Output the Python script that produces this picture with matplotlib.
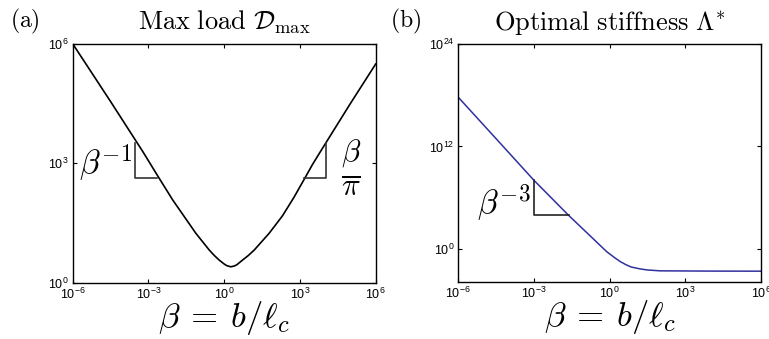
import matplotlib
matplotlib.use('Agg')
import matplotlib.pyplot as plt
import numpy as np

# values, stored as log10
# panel (a): max load D_max vs beta
load_logb = [-6.0, -4.5, -3.23, -2.63, -2.04, -1.58, -1.12, -0.59, -0.4, -0.2, 0.0,
             0.1, 0.26, 0.4, 0.5, 0.73, 0.95, 1.19, 1.78, 2.31, 2.77, 3.19, 3.5,
             3.82, 5.0, 6.0]
load_logd = [6.0, 4.55, 3.30, 2.68, 2.08, 1.66, 1.24, 0.82, 0.69, 0.57, 0.47,
             0.43, 0.40, 0.42, 0.45, 0.57, 0.68, 0.82, 1.24, 1.68, 2.15, 2.62, 2.97,
             3.30, 4.5, 5.49]

# panel (b): optimal stiffness Lambda* vs beta
stiff_logb = [-6.0, -4.5, -3.0, -1.63, -0.11, 0.2, 0.42, 0.65, 0.85, 1.2, 1.5,
              2.0, 4.0, 6.0]
stiff_logl = [17.74, 12.9, 8.04, 3.96, -0.31, -1.0, -1.45, -1.82, -2.08, -2.3, -2.43,
              -2.53, -2.56, -2.57]

# slope triangles (corners, log10)
tri_a1_logb = [-3.54, -3.54, -2.67]
tri_a1_logy = [3.52, 2.64, 2.64]
tri_a2_logb = [3.16, 4.02, 4.02]
tri_a2_logy = [2.64, 2.64, 3.52]
tri_b_logb = [-3.0, -3.0, -1.63]
tri_b_logy = [8.04, 3.96, 3.96]

xticks = [1e-6, 1e-3, 1e0, 1e3, 1e6]

plt.rcParams['font.family'] = ['Liberation Sans', 'DejaVu Sans']
plt.rcParams['mathtext.fontset'] = 'cm'

fig = plt.figure(figsize=(7.69, 3.39), dpi=100)
ax1 = fig.add_axes([0.0945, 0.166, 0.394, 0.705])
ax2 = fig.add_axes([0.596, 0.169, 0.3936, 0.702])


def p(v):
    return 10.0 ** np.array(v)


for ax in (ax1, ax2):
    ax.set_xscale('log')
    ax.set_yscale('log')

ax1.plot(p(load_logb), p(load_logd), color='k', lw=1.2)
ax1.plot(p(tri_a1_logb), p(tri_a1_logy), color='#333333', lw=1.2)
ax1.plot(p(tri_a2_logb), p(tri_a2_logy), color='#333333', lw=1.2)
ax1.set_ylim(1e0, 1e6)
ax1.set_yticks([1e0, 1e3, 1e6])

ax2.plot(p(stiff_logb), p(stiff_logl), color='#3030a0', lw=1.1)
ax2.plot(p(tri_b_logb), p(tri_b_logy), color='#222222', lw=1.2)
ax2.set_ylim(10 ** -3.8, 1e24)
ax2.set_yticks([1e0, 1e12, 1e24])

for ax in (ax1, ax2):
    ax.set_xlim(1e-6, 1e6)
    ax.set_xticks(xticks)
    ax.minorticks_off()
    ax.tick_params(direction='in', length=3, width=0.8, top=True, right=True,
                   labelsize=9, pad=3)
    for s in ax.spines.values():
        s.set_linewidth(1.0)
    ax.set_xlabel(r'$\beta\:=\:b/\ell_c$', fontsize=25, labelpad=-2)

ax1.set_title(r'$\mathrm{Max\ load}\ \mathcal{D}_{\max}$', fontsize=19, pad=10)
ax2.set_title(r'$\mathrm{Optimal\ stiffness}\ \Lambda^{*}$', fontsize=19, pad=10)
fig.text(10 / 769, 1 - 27 / 339, r'$\mathrm{(a)}$', fontsize=17, va='baseline')
fig.text(390 / 769, 1 - 27 / 339, r'$\mathrm{(b)}$', fontsize=17, va='baseline')

ax1.text(10 ** -3.65, 10 ** 3.0, r'$\beta^{-1}$', fontsize=24, ha='right', va='center')
ax1.text(10 ** 5.02, 10 ** 2.88, r'$\frac{\beta}{\pi}$', fontsize=32, ha='center', va='center')
ax2.text(10 ** -3.15, 10 ** 5.36, r'$\beta^{-3}$', fontsize=24, ha='right', va='center')

fig.savefig('out.png', dpi=100)
